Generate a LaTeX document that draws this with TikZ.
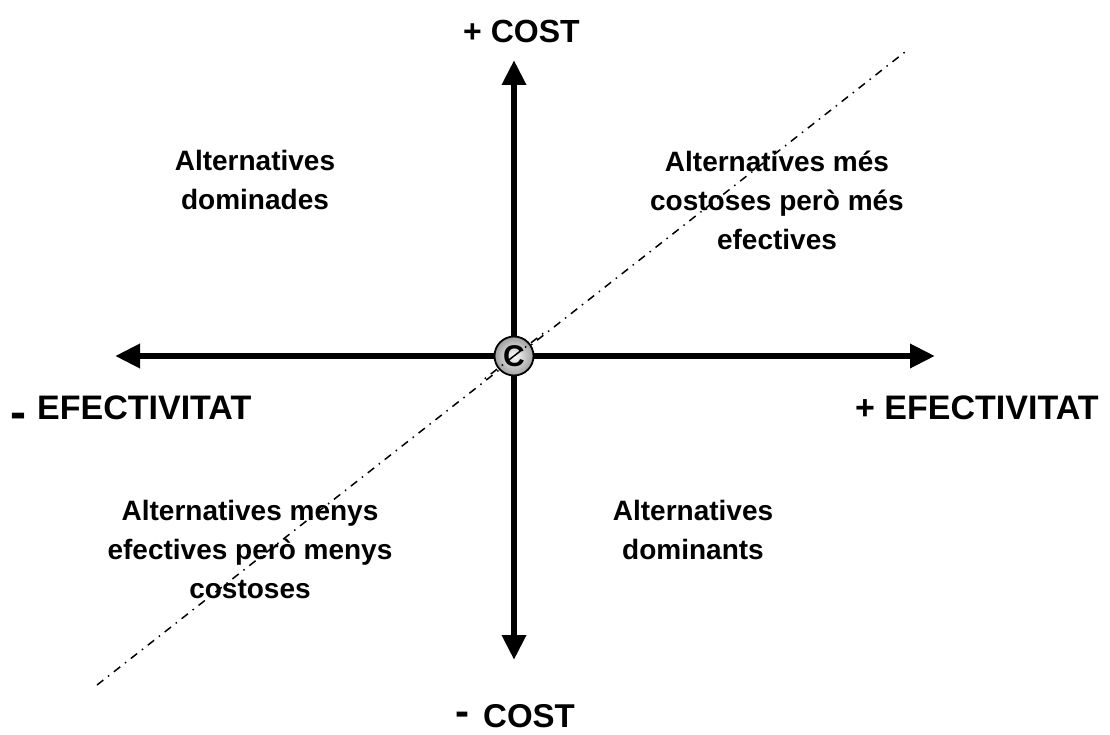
\documentclass[tikz,border=0pt]{standalone}
\usepackage{fontspec}
\setmainfont{Liberation Sans}
\usetikzlibrary{arrows.meta}
\begin{document}
\begin{tikzpicture}[x=1pt,y=-1pt,
  axis/.style={line width=6.5pt,-{Triangle[length=25pt,width=23pt]}},
  diag/.style={line width=1.5pt,dash pattern=on 8pt off 6pt on 1.5pt off 6pt},
  lbl/.style={align=center,font=\fontsize{28}{39}\selectfont\bfseries,inner sep=0pt},
  axl/.style={font=\fontsize{34}{36}\selectfont\bfseries,inner sep=0pt,anchor=base west},
  big/.style={font=\fontsize{48}{50}\selectfont\bfseries,inner sep=0pt,anchor=base west,text depth=0pt}]
\useasboundingbox (0,0) rectangle (1110,735);
\coordinate (o) at (514,356);
\coordinate (top) at (514,60);
\coordinate (bot) at (514,660);
\coordinate (lft) at (115,356);
\coordinate (rgt) at (935,356);
\coordinate (d1) at (97,685);
\coordinate (d2) at (905,52);
\draw[axis] (o) -- (top);
\draw[axis] (o) -- (bot);
\draw[axis] (o) -- (lft);
\draw[axis] (o) -- (rgt);
\draw[diag] (d1) -- (d2);
\node[circle,draw=black,line width=1.8pt,minimum size=39pt,inner sep=0pt,
  inner color=white,outer color=black!38,font=\fontsize{30}{30}\selectfont\bfseries] (c) at (o) {C};
\draw[diag] (c.center) -- ++(-30,23.3);
\draw[diag] (c.center) -- ++(30,-23.3);
\node[axl,font=\fontsize{32}{36}\selectfont\bfseries] (pc) at (463,43) {+ COST};
\node[lbl] (q1) at (255,180) {Alternatives\\dominades};
\node[lbl] (q2) at (777,200) {Alternatives més\\costoses però més\\efectives};
\node[lbl] (q3) at (250,549) {Alternatives menys\\efectives però menys\\costoses};
\node[lbl] (q4) at (693,530) {Alternatives\\dominants};
\node[axl] (pe) at (855,419) {+ EFECTIVITAT};
\node[big] (me1) at (10,428) {-};
\node[axl] (me) at (37,419) {EFECTIVITAT};
\node[big,font=\fontsize{42}{44}\selectfont\bfseries] (mc1) at (455,725) {-};
\node[axl,font=\fontsize{33}{36}\selectfont\bfseries,text depth=0pt] (mc) at (483,727) {COST};
\end{tikzpicture}
\end{document}
